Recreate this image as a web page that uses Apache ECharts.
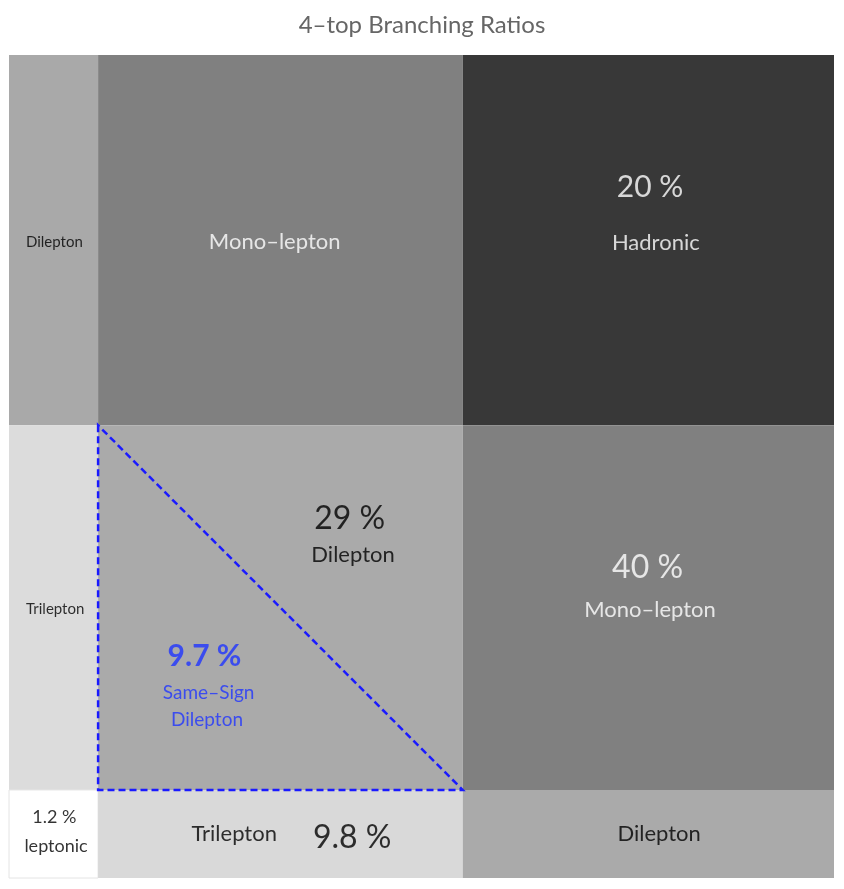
<!DOCTYPE html>
<html><head><meta charset="utf-8">
<script src="https://cdn.jsdelivr.net/npm/echarts@6/dist/echarts.min.js"></script>
<style>html,body{margin:0;background:#fff}#main{width:844px;height:889px}</style>
</head><body><div id="main"></div>
<script>
// column / row boundaries (fractions, rows from top)
const colEdges = [0, 0.108, 0.55, 1];
const rowEdges = [0, 0.45, 0.893, 1];
// cells: [col, row, color]
const cellCols = [0, 1, 2, 0, 1, 2, 0, 1, 2];
const cellRows = [0, 0, 0, 1, 1, 1, 2, 2, 2];
const cellColors = ['#a9a9a9', '#808080', '#383838', '#dcdcdc', '#aaaaaa', '#808080', '#ffffff', '#d9d9d9', '#aaaaaa'];
// labels: text, x, y, size, color, bold
const labelText = ['Dilepton', 'Mono\u2013lepton', '20 %', 'Hadronic', 'Trilepton', '29 %', 'Dilepton', '40 %', 'Mono\u2013lepton',
  '9.7 %', 'Same\u2013Sign', 'Dilepton', '1.2 %', 'leptonic', 'Trilepton', '9.8 %', 'Dilepton'];
const labelX = [0.055, 0.322, 0.777, 0.784, 0.056, 0.413, 0.417, 0.774, 0.777, 0.237, 0.242, 0.240, 0.055, 0.057, 0.273, 0.416, 0.788];
const labelY = [0.228, 0.227, 0.161, 0.228, 0.673, 0.564, 0.607, 0.623, 0.674, 0.731, 0.775, 0.808, 0.926, 0.961, 0.947, 0.951, 0.947];
const labelSize = [15, 22, 30, 22, 15, 32, 22, 32, 22, 30, 19, 19, 18, 18, 22, 32, 22];
const labelColor = ['#000', '#fff', '#fff', '#fff', '#000', '#000', '#000', '#fff', '#fff', '#1f35ff', '#1f35ff', '#1f35ff', '#000', '#000', '#000', '#000', '#000'];
// same-sign triangle vertices
const triX = [colEdges[1], colEdges[1], colEdges[2]];
const triY = [rowEdges[1], rowEdges[2], rowEdges[2]];

const chart = echarts.init(document.getElementById('main'));
const cells = cellCols.map((c, i) => [colEdges[c], colEdges[c + 1], rowEdges[cellRows[i]], rowEdges[cellRows[i] + 1], cellColors[i]]);
chart.setOption({
  animation: false,
  title: { text: '4\u2013top Branching Ratios', left: 'center', top: 8,
    textStyle: { color: '#666', fontSize: 24, fontWeight: 'normal', fontFamily: 'Lato' } },
  grid: { left: 9, right: 10, top: 55, bottom: 11 },
  xAxis: { type: 'value', min: 0, max: 1, show: false },
  yAxis: { type: 'value', min: 0, max: 1, inverse: true, show: false },
  series: [
    {
      type: 'custom', data: cells,
      renderItem: (params, api) => {
        const p0 = api.coord([api.value(0), api.value(2)]);
        const p1 = api.coord([api.value(1), api.value(3)]);
        const col = cells[params.dataIndex][4];
        return { type: 'rect', shape: { x: p0[0], y: p0[1], width: p1[0] - p0[0], height: p1[1] - p0[1] },
          style: { fill: col, stroke: col === '#ffffff' ? '#e4e4e4' : null, lineWidth: 1 } };
      }
    },
    {
      type: 'custom', data: [0],
      renderItem: (params, api) => ({
        type: 'polygon',
        shape: { points: triX.map((x, i) => api.coord([x, triY[i]])) },
        style: { fill: null, stroke: '#1a1aff', lineWidth: 2.5, lineDash: [7, 4] }
      })
    },
    {
      type: 'scatter', symbolSize: 0,
      data: labelText.map((t, i) => ({
        value: [labelX[i], labelY[i]],
        label: { show: true, position: 'inside', formatter: t, fontSize: labelSize[i], color: labelColor[i],
          fontFamily: 'Lato', fontWeight: i === 9 ? 'bold' : 'normal' }
      }))
    }
  ]
});
</script></body></html>
